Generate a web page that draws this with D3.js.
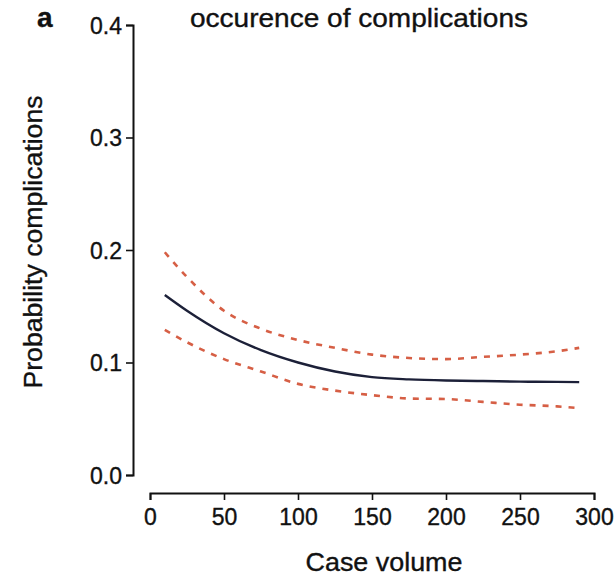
<!DOCTYPE html>
<html>
<head>
<meta charset="utf-8">
<script src="https://cdn.jsdelivr.net/npm/d3@7"></script>
<style>
  body { margin: 0; background: #fff; }
  svg text { font-family: "Liberation Sans", Arial, sans-serif; fill: #111; stroke: #111; stroke-width: 0.35px; }
</style>
</head>
<body>
<div id="viz"></div>
<script>
const caseVolume = [10, 25, 50, 75, 100, 125, 150, 175, 200, 225, 250, 275, 290];
const estimate   = [0.160, 0.146, 0.126, 0.111, 0.100, 0.092, 0.087, 0.085, 0.084, 0.0835, 0.083, 0.0828, 0.0826];
const upperCI    = [0.198, 0.176, 0.146, 0.130, 0.120, 0.113, 0.107, 0.104, 0.103, 0.105, 0.107, 0.110, 0.113];
const lowerCI    = [0.129, 0.118, 0.103, 0.092, 0.081, 0.075, 0.071, 0.068, 0.0675, 0.065, 0.0625, 0.061, 0.0595];
const xTicks = [0, 50, 100, 150, 200, 250, 300];
const yTicks = [0.0, 0.1, 0.2, 0.3, 0.4];

const width = 615;
const height = 575;

let svg = d3.select('#viz')
            .append('svg')
            .attr('width', width)
            .attr('height', height);

let xScale = d3.scaleLinear().domain([0, 300]).range([150, 594]);
let yScale = d3.scaleLinear().domain([0, 0.4]).range([475, 25]);

let xAxis = d3.axisBottom(xScale).tickValues(xTicks).tickSize(7).tickPadding(9).tickFormat(d3.format('d'));
let yAxis = d3.axisLeft(yScale).tickValues(yTicks).tickSize(7).tickPadding(4).tickFormat(d3.format('.1f'));

let gx = svg.append('g')
            .attr('transform', 'translate(0, 493)')
            .call(xAxis);
let gy = svg.append('g')
            .attr('transform', 'translate(133, 0)')
            .call(yAxis);

[gx, gy].forEach(g => {
    g.select('.domain').attr('stroke', '#111').attr('stroke-width', 2);
    g.selectAll('.tick line').attr('stroke', '#111').attr('stroke-width', 1.6);
    g.selectAll('.tick text')
     .style('font-family', '"Liberation Sans", Arial, sans-serif')
     .style('font-size', '23px')
     .attr('fill', '#111');
});
gy.selectAll('.tick text').attr('dy', '0.35em');

const line = d3.line()
               .x((d, i) => xScale(caseVolume[i]))
               .y(d => yScale(d))
               .curve(d3.curveMonotoneX);

svg.append('path')
   .attr('d', line(upperCI))
   .attr('fill', 'none')
   .attr('stroke', '#d65f45')
   .attr('stroke-width', 2.6)
   .attr('stroke-dasharray', '6,7');
svg.append('path')
   .attr('d', line(lowerCI))
   .attr('fill', 'none')
   .attr('stroke', '#d65f45')
   .attr('stroke-width', 2.6)
   .attr('stroke-dasharray', '6,7');
svg.append('path')
   .attr('d', line(estimate))
   .attr('fill', 'none')
   .attr('stroke', '#1c2038')
   .attr('stroke-width', 2.4);

svg.append('text')
   .attr('x', 359)
   .attr('y', 27)
   .attr('text-anchor', 'middle')
   .attr('textLength', 338)
   .attr('lengthAdjust', 'spacingAndGlyphs')
   .style('font-size', '25px')
   .text('occurence of complications');

svg.append('text')
   .attr('x', 37)
   .attr('y', 27)
   .style('font-size', '28px')
   .style('font-weight', 'bold')
   .text('a');

svg.append('text')
   .attr('x', 384)
   .attr('y', 571)
   .attr('text-anchor', 'middle')
   .attr('textLength', 157)
   .attr('lengthAdjust', 'spacingAndGlyphs')
   .style('font-size', '25px')
   .text('Case volume');

svg.append('text')
   .attr('transform', 'translate(42, 242) rotate(-90)')
   .attr('text-anchor', 'middle')
   .attr('textLength', 293)
   .attr('lengthAdjust', 'spacingAndGlyphs')
   .style('font-size', '25px')
   .text('Probability complications');
</script>
</body>
</html>
